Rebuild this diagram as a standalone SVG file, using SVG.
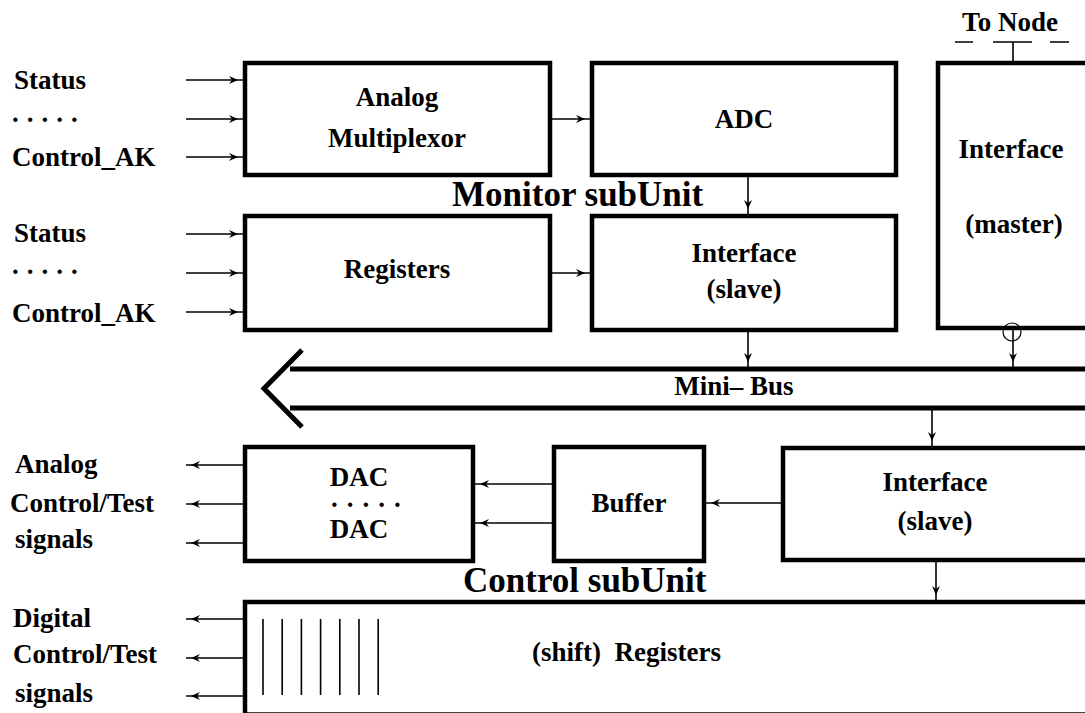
<svg xmlns="http://www.w3.org/2000/svg" width="1085" height="713" viewBox="0 0 1085 713">
<style>
.box{fill:none;stroke:#000;stroke-width:4.5;stroke-linejoin:miter}
.ln{fill:none;stroke:#000;stroke-width:1.6}
.bus{fill:none;stroke:#000;stroke-width:5}
.t{font-family:"Liberation Serif","Times New Roman",serif;font-weight:bold;font-size:27px;fill:#000}
.c{text-anchor:middle}
.big{font-family:"Liberation Serif","Times New Roman",serif;font-weight:bold;font-size:35px;fill:#000}
.a{marker-end:url(#ah)}
</style>
<defs>
<marker id="ah" markerUnits="userSpaceOnUse" viewBox="-12 -5 18 10" markerWidth="18" markerHeight="10" refX="5" refY="0" orient="auto">
<path d="M0,0 L-9,-4 L-6,0 L-9,4 Z" fill="#000"/>
</marker>
</defs>
<rect width="1085" height="713" fill="#fff"/>

<g id="labels-left">
<text class="t" x="14" y="89">Status</text>
<text class="t" x="12" y="122" letter-spacing="8">.....</text>
<text class="t" x="12" y="166">Control_AK</text>
<text class="t" x="14" y="242">Status</text>
<text class="t" x="12" y="274" letter-spacing="8">.....</text>
<text class="t" x="12" y="322">Control_AK</text>
<text class="t" x="15" y="473">Analog</text>
<text class="t" x="10" y="512">Control/Test</text>
<text class="t" x="15" y="548">signals</text>
<text class="t" x="13" y="627">Digital</text>
<text class="t" x="13" y="663">Control/Test</text>
<text class="t" x="15" y="702">signals</text>
</g>

<g id="analog-multiplexor">
<rect class="box" x="245" y="63" width="305" height="112"/>
<text class="t c" x="397" y="106">Analog</text>
<text class="t c" x="397" y="147">Multiplexor</text>
</g>

<g id="adc">
<rect class="box" x="592" y="63" width="304" height="112"/>
<text class="t c" x="744" y="128">ADC</text>
</g>

<g id="interface-master">
<rect class="box" x="938" y="63" width="170" height="265"/>
<text class="t c" x="1011" y="158">Interface</text>
<text class="t c" x="1014" y="233">(master)</text>
<text class="t c" x="1010" y="31">To Node</text>
<path class="ln" d="M955,42 H973 M993,42 H1032 M1050,42 H1069 M1013,42 V61"/>
</g>

<text id="monitor-title" class="big" x="452" y="206">Monitor subUnit</text>

<g id="registers">
<rect class="box" x="245" y="216" width="305" height="114"/>
<text class="t c" x="397" y="278">Registers</text>
</g>

<g id="interface-slave-top">
<rect class="box" x="592" y="216" width="304" height="114"/>
<text class="t c" x="744" y="262">Interface</text>
<text class="t c" x="744" y="298">(slave)</text>
</g>

<g id="mini-bus">
<path class="bus" d="M290,369 H1090 M290,408 H1090"/>
<path class="bus" d="M302,350 L264,388.5 L302,427"/>
<text class="t c" x="734" y="395">Mini– Bus</text>
</g>

<g id="dac">
<rect class="box" x="245" y="447" width="228" height="114"/>
<text class="t c" x="359" y="486">DAC</text>
<text class="t" x="331" y="507" font-size="22" letter-spacing="9">.....</text>
<text class="t c" x="359" y="538">DAC</text>
</g>

<g id="buffer">
<rect class="box" x="554" y="447" width="150" height="114"/>
<text class="t c" x="629" y="512">Buffer</text>
</g>

<g id="interface-slave-bottom">
<rect class="box" x="783" y="448" width="320" height="112"/>
<text class="t c" x="935" y="491">Interface</text>
<text class="t c" x="935" y="530">(slave)</text>
</g>

<text id="control-title" class="big" x="463" y="592">Control subUnit</text>

<g id="shift-registers">
<rect class="box" x="245" y="602" width="860" height="112.5"/>
<path class="ln" d="M263,619 V695 M282.2,619 V695 M301.4,619 V695 M320.6,619 V695 M339.8,619 V695 M359,619 V695 M378.2,619 V695"/>
<text class="t" x="532" y="661" xml:space="preserve">(shift)  Registers</text>
</g>

<g id="connectors">
<path class="ln a" d="M186,80 H243"/>
<path class="ln a" d="M186,119 H243"/>
<path class="ln a" d="M186,157 H243"/>
<path class="ln a" d="M186,234 H243"/>
<path class="ln a" d="M186,273 H243"/>
<path class="ln a" d="M186,312 H243"/>
<path class="ln a" d="M552,119 H590"/>
<path class="ln a" d="M552,273 H590"/>
<path class="ln a" d="M748,177 V214"/>
<path class="ln a" d="M748,332 V367"/>
<path class="ln a" d="M1013,330 V367"/>
<circle cx="1012" cy="332" r="9" fill="none" stroke="#000" stroke-width="1.2"/>
<path class="ln a" d="M932,410 V446"/>
<path class="ln a" d="M936,562 V600"/>
<path class="ln a" d="M781,503 H706"/>
<path class="ln a" d="M552,484 H475"/>
<path class="ln a" d="M552,523 H475"/>
<path class="ln a" d="M243,465 H186"/>
<path class="ln a" d="M243,504 H186"/>
<path class="ln a" d="M243,543 H186"/>
<path class="ln a" d="M243,619 H186"/>
<path class="ln a" d="M243,658 H186"/>
<path class="ln a" d="M243,696 H186"/>
</g>
</svg>
